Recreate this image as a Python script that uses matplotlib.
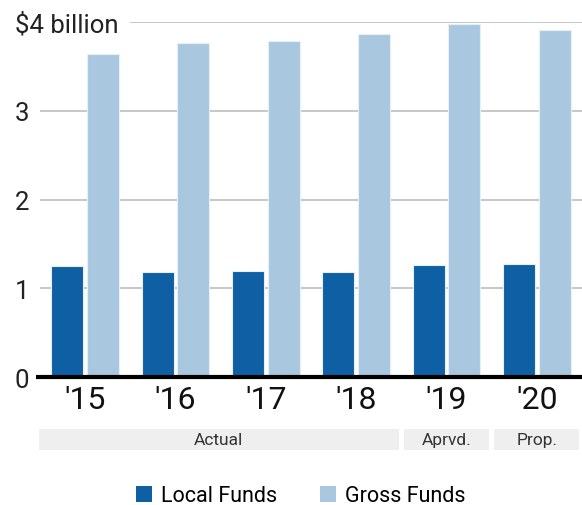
import matplotlib
matplotlib.use("Agg")
import matplotlib.pyplot as plt
from matplotlib.patches import Rectangle, Patch
from matplotlib.transforms import blended_transform_factory
import numpy as np

plt.rcParams['font.family'] = ['Roboto', 'DejaVu Sans']

years = ["'15", "'16", "'17", "'18", "'19", "'20"]
local_funds = [1.25, 1.18, 1.19, 1.18, 1.26, 1.27]
gross_funds = [3.64, 3.76, 3.79, 3.86, 3.98, 3.91]
y_ticks = [0, 1, 2, 3, 4]
y_tick_labels = ["0", "1", "2", "3", "$4 billion"]
band_labels = ["Actual", "Aprvd.", "Prop."]
band_spans = [(0, 3), (4, 4), (5, 5)]

c_local = "#0e5fa3"
c_gross = "#a9c8e0"

W, H = 582, 506
fig = plt.figure(figsize=(W / 100, H / 100), dpi=100)
ax = fig.add_axes([40 / W, (H - 378) / H, 542 / W, 355 / H])

x = np.arange(len(years))
bw = 0.354
off = 0.199
ax.bar(x - off, local_funds, bw, color=c_local, edgecolor="#e6eef6", linewidth=0.8, zorder=3)
ax.bar(x + off, gross_funds, bw, color=c_gross, edgecolor="#e6eef6", linewidth=0.8, zorder=3)

ax.set_xlim(-0.5, 5.5)
ax.set_ylim(0, 4)

# gridlines
for yv in y_ticks[1:]:
    xs = 0.494 if yv == 4 else -0.5
    ax.hlines(yv, xs, 5.5, color="#bdbdbd", lw=1.2, zorder=1)
ax.hlines(0, -0.545, 5.5, color="black", lw=3, zorder=4, clip_on=False)

for s in ax.spines.values():
    s.set_visible(False)

ax.set_xticks(x)
ax.set_xticklabels(years, fontsize=23, color="#111111")
ax.set_yticks(y_ticks)
ax.set_yticklabels(y_tick_labels, fontsize=18.5, color="#222222")
ax.tick_params(axis='x', length=0, pad=6)
ax.tick_params(axis='y', length=0, pad=18)
for lab in ax.get_yticklabels():
    lab.set_ha('left')

# category bands
tr = blended_transform_factory(ax.transData, fig.transFigure)
gap = 0.03
y0 = 1 - 451 / H
bh = 21 / H
for lab, (a, b) in zip(band_labels, band_spans):
    xa = a - 0.5 - (0.01 if a == 0 else -gap)
    xb = b + 0.5 - gap
    fig.add_artist(Rectangle((xa, y0), xb - xa, bh, transform=tr,
                             facecolor="#efefef", edgecolor="none", clip_on=False))
    fig.text((xa + xb) / 2, y0 + bh / 2, lab, transform=tr, ha='center', va='center',
             fontsize=12.5, color="#333333")

handles = [Patch(facecolor=c_local, edgecolor="none", label="Local Funds"),
           Patch(facecolor=c_gross, edgecolor="none", label="Gross Funds")]
fig.legend(handles=handles, loc='center', bbox_to_anchor=(0.517, 1 - 497 / H), ncol=2,
           frameon=False, fontsize=15.5, handlelength=0.75, handleheight=0.75,
           handletextpad=0.4, columnspacing=2.0)

fig.savefig("out.png", dpi=100)
